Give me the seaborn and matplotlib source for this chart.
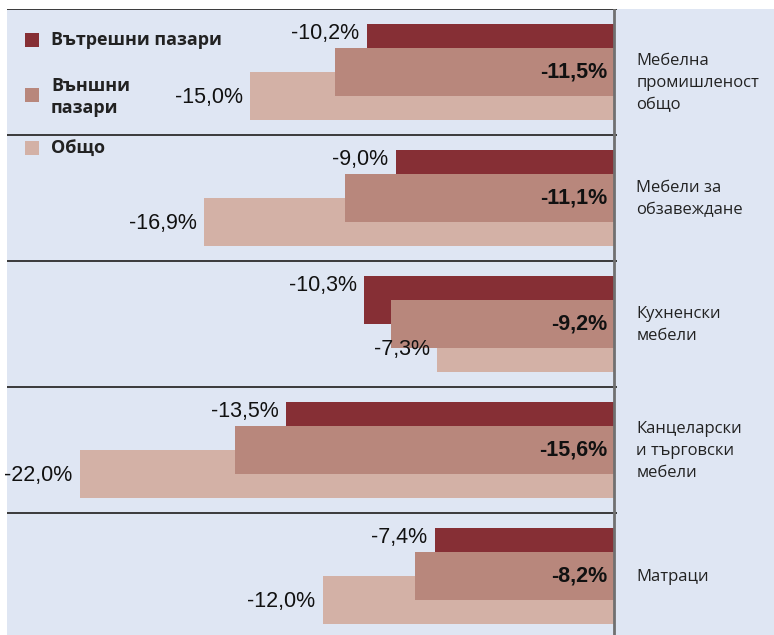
import numpy as np
import pandas as pd
import matplotlib
matplotlib.use("Agg")
import matplotlib.pyplot as plt
from matplotlib.patches import Rectangle
import seaborn as sns

categories = ["Мебелна\nпромишленост\nобщо", "Мебели за\nобзавеждане", "Кухненски\nмебели",
              "Канцеларски\nи търговски\nмебели", "Матраци"]
series_names = ["Вътрешни пазари", "Външни\nпазари", "Общо"]
domestic = [-10.2, -9.0, -10.3, -13.5, -7.4]
foreign = [-11.5, -11.1, -9.2, -15.6, -8.2]
total = [-15.0, -16.9, -7.3, -22.0, -12.0]

C_DOM = "#862f35"
C_FOR = "#b8877c"
C_TOT = "#d3b1a6"
BG = "#dfe6f3"

sns.set_theme(style="white")
plt.rcParams['font.family'] = ['Liberation Sans', 'DejaVu Sans']

W, H = 774, 635
fig = plt.figure(figsize=(W / 100, H / 100), dpi=100, facecolor="white")
ax = fig.add_axes([7 / W, 0, 1 - 7 / W, 1 - 9 / H])
ax.set_facecolor(BG)

idx = np.arange(len(categories))
off = 24 / 126
bh = 48 / 126

df_dom = pd.DataFrame({"pos": idx - off, "val": domestic})
df_tot = pd.DataFrame({"pos": idx + off, "val": total})
df_for = pd.DataFrame({"pos": idx.astype(float), "val": foreign})

for d, c in [(df_dom, C_DOM), (df_tot, C_TOT), (df_for, C_FOR)]:
    sns.barplot(data=d, x="val", y="pos", orient="h", native_scale=True,
                width=bh, color=c, saturation=1, errorbar=None, ax=ax,
                linewidth=0)

ax.set_xlim(-25.0, 6.57)
ax.set_ylim(4.468, -0.5)
for s in ax.spines.values():
    s.set_visible(False)
ax.set_xticks([])
ax.set_yticks([])
ax.set_xlabel("")
ax.set_ylabel("")

# separators
for yy in [-0.5, 0.5, 1.5, 2.5, 3.5]:
    ax.plot([-25.0, 0.1], [yy, yy], color="#3a3a3a", lw=1.4, zorder=5,
            solid_capstyle="butt")
ax.axvline(0, color="#707070", lw=2, zorder=6)

def fmt(v):
    return f"{v:.1f}%".replace(".", ",")

for i in idx:
    ax.text(domestic[i] - 0.3, i - off - bh / 4 - 0.02, fmt(domestic[i]), ha="right",
            va="center", fontsize=15.5, color="#111111", zorder=7)
    ax.text(total[i] - 0.3, i + off + 0.01, fmt(total[i]), ha="right",
            va="center", fontsize=15.5, color="#111111", zorder=7)
    ax.text(-0.3, i, fmt(foreign[i]), ha="right", va="center", fontsize=15.5,
            fontweight="bold", color="#111111", zorder=7)
    ax.text(0.9, i + (0.09 if i == 0 else 0.01), categories[i], ha="left",
            va="center", fontsize=12, color="#222222", linespacing=1.5,
            family=["Open Sans", "DejaVu Sans"], zorder=7)

# legend
leg = [(40, C_DOM, series_names[0], 40), (95, C_FOR, series_names[1], 97),
       (148, C_TOT, series_names[2], 148)]
for yc, c, name, ty in leg:
    fig.patches.append(Rectangle((25 / W, 1 - (yc + 7) / H), 14 / W, 14 / H,
                                 transform=fig.transFigure, facecolor=c,
                                 edgecolor="none", zorder=8))
    fig.text(51 / W, 1 - ty / H, name, ha="left", va="center", fontsize=13,
             fontweight="bold", color="#222222", linespacing=1.25,
             family=["Open Sans", "DejaVu Sans"], zorder=9)

fig.savefig("out.png", dpi=100, facecolor="white")
